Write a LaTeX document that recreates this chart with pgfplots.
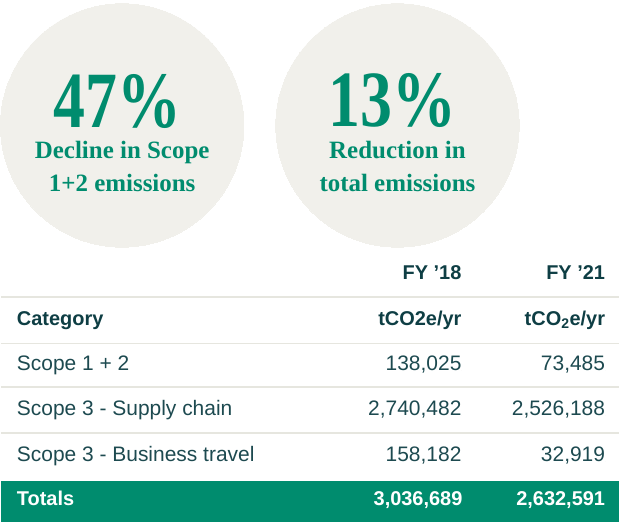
\documentclass[border=0pt]{standalone}
\usepackage{pgfplots}
\pgfplotsset{compat=1.18}
\usepackage{fontspec}
\setmainfont{Liberation Sans}
\newfontfamily\headserif{Liberation Serif}
\definecolor{circ}{HTML}{F1F0EB}
\definecolor{brand}{HTML}{008C6E}
\definecolor{headtxt}{HTML}{0E3E44}
\definecolor{bodytxt}{HTML}{1D4A50}
\definecolor{rulecol}{HTML}{E6E6DF}
\newcommand{\bodyfont}{\fontsize{21bp}{24bp}\selectfont}
\newcommand{\headfont}{\fontsize{20bp}{24bp}\selectfont\bfseries}
\newcommand{\bigfig}{\headserif\bfseries\fontsize{80bp}{80bp}\selectfont}
\newcommand{\circfont}{\headserif\bfseries\fontsize{25bp}{25bp}\selectfont}
\begin{document}
\begin{tikzpicture}
\begin{axis}[x=1bp,y=1bp,y dir=reverse,xmin=0,xmax=620,ymin=0,ymax=523,
  hide axis,clip=false,scale only axis,set layers]
\begin{pgfonlayer}{axis background}
\fill[white] (axis cs:0,0) rectangle (axis cs:620,523);
\end{pgfonlayer}
% circles
\addplot[only marks, mark=*, mark size=122bp, color=circ,
  mark options={draw=circ,fill=circ,line width=0pt}]
  coordinates {(121.7,125.8) (397.7,125.8)};
% rules
\addplot[rulecol, line width=1.6bp] coordinates {(0,297.7) (620,297.7)};
\addplot[rulecol, line width=1.6bp] coordinates {(0,344.5) (620,344.5)};
\addplot[rulecol, line width=1.6bp] coordinates {(0,388.3) (620,388.3)};
\addplot[rulecol, line width=1.6bp] coordinates {(0,434.3) (620,434.3)};
% totals bar
\addplot[fill=brand, draw=none] coordinates {(0,482.7) (620,482.7) (620,523) (0,523)} -- cycle;
\begin{pgfonlayer}{axis foreground}
% big figures
\node[anchor=base, text=brand, inner sep=0] at (axis cs:117,128.3)
  {\bigfig\scalebox{0.8}[1]{47\%}};
\node[anchor=base, text=brand, inner sep=0] at (axis cs:392.7,127)
  {\bigfig\scalebox{0.8}[1]{13\%}};
\node[anchor=base, text=brand, inner sep=0] at (axis cs:121.7,159.3)
  {\circfont Decline in Scope};
\node[anchor=base, text=brand, inner sep=0] at (axis cs:121.7,192)
  {\circfont 1+2 emissions};
\node[anchor=base, text=brand, inner sep=0] at (axis cs:397.7,159.3)
  {\circfont Reduction in};
\node[anchor=base, text=brand, inner sep=0] at (axis cs:397.7,192)
  {\circfont total emissions};
% headers
\node[anchor=base east, text=headtxt, inner sep=0] at (axis cs:462,280) {\headfont FY ’18};
\node[anchor=base east, text=headtxt, inner sep=0] at (axis cs:606,280) {\headfont FY ’21};
\node[anchor=base west, text=headtxt, inner sep=0] at (axis cs:16,326.5) {\headfont Category};
\node[anchor=base east, text=headtxt, inner sep=0] at (axis cs:462,326.5) {\headfont tCO2e/yr};
\node[anchor=base east, text=headtxt, inner sep=0] at (axis cs:606,326.5) {\headfont tCO\textsubscript{2}e/yr};
% row labels
\node[anchor=base west, text=bodytxt, inner sep=0] at (axis cs:16,371.7) {\bodyfont Scope 1 + 2};
\node[anchor=base west, text=bodytxt, inner sep=0] at (axis cs:16,416.3) {\bodyfont Scope 3 - Supply chain};
\node[anchor=base west, text=bodytxt, inner sep=0] at (axis cs:16,462.3) {\bodyfont Scope 3 - Business travel};
\node[anchor=base west, text=white, inner sep=0] at (axis cs:16,506.7) {\headfont Totals};
\end{pgfonlayer}
% values
\addplot[only marks, mark=*, mark size=0pt, mark options={draw=none,fill=none},
  point meta=explicit symbolic, nodes near coords,
  nodes near coords style={anchor=base east, inner sep=0, text=bodytxt, font=\bodyfont}]
  table[meta=v] {
x y v
462 371.7 138,025
606 371.7 73,485
462 416.3 2,740,482
606 416.3 2,526,188
462 462.3 158,182
606 462.3 32,919
};
\addplot[only marks, mark=*, mark size=0pt, mark options={draw=none,fill=none},
  point meta=explicit symbolic, nodes near coords,
  nodes near coords style={anchor=base east, inner sep=0, text=white, font=\headfont}]
  table[meta=v] {
x y v
463 506.7 3,036,689
606 506.7 2,632,591
};
\end{axis}
\end{tikzpicture}
\end{document}
